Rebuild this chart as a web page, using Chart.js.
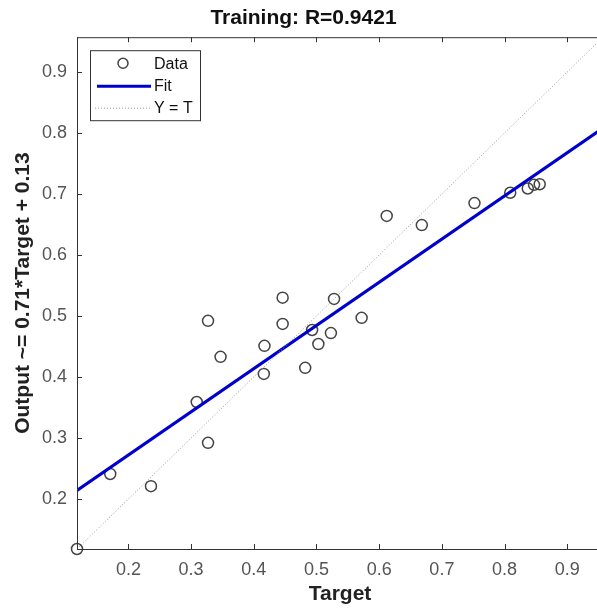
<!DOCTYPE html>
<html>
<head>
<meta charset="utf-8">
<script src="https://cdn.jsdelivr.net/npm/chart.js@4"></script>
<style>
  body { margin: 0; background: #fff; overflow: hidden; }
  .wrap { width: 610px; height: 608px; }
</style>
</head>
<body>
<div class="wrap"><canvas id="chart"></canvas></div>
<script>
// values
const targets = [0.118, 0.171, 0.236, 0.309, 0.327, 0.327, 0.347, 0.416, 0.417, 0.446, 0.446,
  0.482, 0.493, 0.503, 0.523, 0.528, 0.572, 0.612, 0.668, 0.752, 0.809, 0.837, 0.847, 0.856];
const outputs = [0.118, 0.241, 0.221, 0.359, 0.292, 0.492, 0.433, 0.405, 0.451, 0.530, 0.487,
  0.415, 0.477, 0.454, 0.472, 0.528, 0.497, 0.664, 0.649, 0.685, 0.702, 0.709, 0.715, 0.716];
const fitX = [0.118, 0.957];
const fitY = [0.214, 0.808];
const identity = [0.118, 0.957];
const axisMin = 0.118;
const axisMax = 0.957;
const tickValues = [0.2, 0.3, 0.4, 0.5, 0.6, 0.7, 0.8, 0.9];

const FONT = "'Liberation Sans', Arial, Helvetica, sans-serif";

// MATLAB-style box with inward ticks + legend
const boxPlugin = {
  id: "box",
  afterDraw(chart) {
    const { ctx, chartArea: a, scales } = chart;
    ctx.save();
    ctx.strokeStyle = "#333";
    ctx.lineWidth = 1;
    ctx.strokeRect(a.left + 0.5, a.top + 0.5, a.right - a.left, a.bottom - a.top);
    ctx.beginPath();
    tickValues.forEach((v) => {
      const x = Math.round(scales.x.getPixelForValue(v)) + 0.5;
      ctx.moveTo(x, a.bottom); ctx.lineTo(x, a.bottom - 5);
      ctx.moveTo(x, a.top); ctx.lineTo(x, a.top + 5);
      const y = Math.round(scales.y.getPixelForValue(v)) + 0.5;
      ctx.moveTo(a.left, y); ctx.lineTo(a.left + 5, y);
      ctx.moveTo(a.right, y); ctx.lineTo(a.right - 5, y);
    });
    ctx.stroke();

    // legend
    const lx = a.left + 13, ly = a.top + 13;
    ctx.fillStyle = "#fff";
    ctx.fillRect(lx, ly, 110, 70);
    ctx.strokeStyle = "#333";
    ctx.strokeRect(lx + 0.5, ly + 0.5, 110, 70);
    ctx.font = "16px " + FONT;
    ctx.fillStyle = "#111";
    ctx.textBaseline = "middle";
    ctx.fillText("Data", lx + 64, ly + 14);
    ctx.fillText("Fit", lx + 64, ly + 36);
    ctx.fillText("Y = T", lx + 64, ly + 58);
    ctx.strokeStyle = "#444";
    ctx.lineWidth = 1.5;
    ctx.beginPath();
    ctx.arc(lx + 33, ly + 13, 5, 0, Math.PI * 2);
    ctx.stroke();
    ctx.strokeStyle = "#0000cc";
    ctx.lineWidth = 3;
    ctx.beginPath();
    ctx.moveTo(lx + 7, ly + 36); ctx.lineTo(lx + 61, ly + 36);
    ctx.stroke();
    ctx.strokeStyle = "#999";
    ctx.lineWidth = 1;
    ctx.setLineDash([1, 2]);
    ctx.beginPath();
    ctx.moveTo(lx + 5, ly + 58); ctx.lineTo(lx + 61, ly + 58);
    ctx.stroke();
    ctx.restore();
  },
};

const axisOpts = (title, fit) => ({
  type: "linear",
  min: axisMin,
  max: axisMax,
  afterBuildTicks: (scale) => {
    scale.ticks = tickValues.map((v) => ({ value: v }));
  },
  afterFit: fit,
  ticks: {
    padding: 10,
    color: "#555",
    font: { family: FONT, size: 18 },
    callback: (v) => v.toFixed(1),
  },
  grid: { drawOnChartArea: false, drawTicks: false },
  border: { color: "#333" },
  title: {
    display: true,
    text: title,
    color: "#222",
    font: { family: FONT, size: 21, weight: "bold" },
  },
});

const xAxis = axisOpts("Target", (scale) => { scale.height = 59; });
xAxis.title.padding = { top: 0, bottom: 1 };
const yAxis = axisOpts("Output ~= 0.71*Target + 0.13", (scale) => { scale.width = 77; });
yAxis.title.padding = { top: 11, bottom: 0 };

new Chart(document.getElementById("chart"), {
  type: "scatter",
  data: {
    datasets: [
      {
        label: "Y = T",
        type: "line",
        data: identity.map((v) => ({ x: v, y: v })),
        borderColor: "#999",
        borderWidth: 1,
        borderDash: [1, 2],
        pointRadius: 0,
        fill: false,
      },
      {
        label: "Fit",
        type: "line",
        data: fitX.map((x, i) => ({ x, y: fitY[i] })),
        borderColor: "#0000cc",
        borderWidth: 3,
        pointRadius: 0,
        fill: false,
      },
      {
        label: "Data",
        data: targets.map((x, i) => ({ x, y: outputs[i] })),
        pointStyle: "circle",
        pointRadius: 5.5,
        pointBorderWidth: 1.5,
        pointBorderColor: "#444",
        pointBackgroundColor: "rgba(0,0,0,0)",
        clip: false,
      },
    ],
  },
  options: {
    responsive: true,
    maintainAspectRatio: false,
    animation: false,
    layout: { padding: { top: 0, right: 3, left: 0, bottom: 0 } },
    plugins: {
      legend: { display: false },
      tooltip: { enabled: false },
      title: {
        display: true,
        text: "Training: R=0.9421",
        color: "#111",
        font: { family: FONT, size: 21, weight: "bold" },
        padding: { top: 6, bottom: 6 },
      },
    },
    scales: { x: xAxis, y: yAxis },
  },
  plugins: [boxPlugin],
});
</script>
</body>
</html>
